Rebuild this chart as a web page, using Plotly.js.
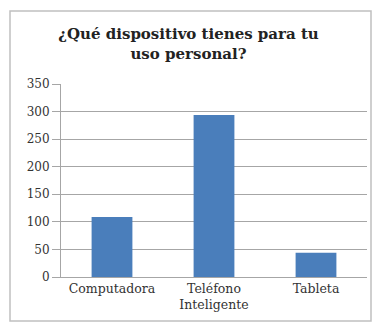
<!DOCTYPE html>
<html>
<head>
<meta charset="utf-8">
<script src="https://cdn.plot.ly/plotly-3.0.1.min.js"></script>
<style>html,body{margin:0;padding:0;background:#fff;}#chart{width:377px;height:327px;}</style>
</head>
<body>
<div id="chart"></div>
<script>
const categories = ["Computadora", "Teléfono<br>Inteligente", "Tableta"];
const values = [109, 294, 44];
const yTicks = [0, 50, 100, 150, 200, 250, 300, 350];

const trace = {
  type: "bar",
  x: categories,
  y: values,
  marker: {color: "#4a7ebb"},
  hoverinfo: "none"
};

const layout = {
  width: 377,
  height: 327,
  margin: {l: 61, r: 10, t: 84, b: 50},
  paper_bgcolor: "#ffffff",
  plot_bgcolor: "#ffffff",
  bargap: 0.6,
  showlegend: false,
  font: {family: "DejaVu Serif", color: "#333", size: 12},
  title: {
    text: "¿Qué dispositivo tienes para tu<br>uso personal?",
    font: {family: "DejaVu Serif", size: 15, color: "#222", weight: 700},
    x: 0.5, xref: "container", xanchor: "center",
    y: 1 - 39/327, yref: "container", yanchor: "middle"
  },
  xaxis: {
    type: "category",
    showgrid: false,
    showline: true,
    linecolor: "#a6a6a6",
    linewidth: 1,
    ticks: "",
    tickfont: {family: "DejaVu Serif", size: 12.5, color: "#333"},
    fixedrange: true
  },
  yaxis: {
    range: [0, 350],
    tickvals: yTicks,
    ticktext: yTicks.map(String),
    showgrid: true,
    gridcolor: "#a6a6a6",
    gridwidth: 1,
    showline: true,
    linecolor: "#a6a6a6",
    ticks: "outside",
    ticklen: 8,
    tickcolor: "#a6a6a6",
    tickfont: {family: "DejaVu Serif", size: 12, color: "#333"},
    zeroline: false,
    fixedrange: true
  },
  shapes: [{
    type: "rect", xref: "paper", yref: "paper",
    x0: (10-61)/306, x1: (371-61)/306,
    y0: (277-321)/193, y1: (277-11)/193,
    line: {color: "#c0c0c0", width: 1.5},
    fillcolor: "rgba(0,0,0,0)",
    layer: "below"
  }]
};

Plotly.newPlot("chart", [trace], layout, {displayModeBar: false, staticPlot: true});
</script>
</body>
</html>
